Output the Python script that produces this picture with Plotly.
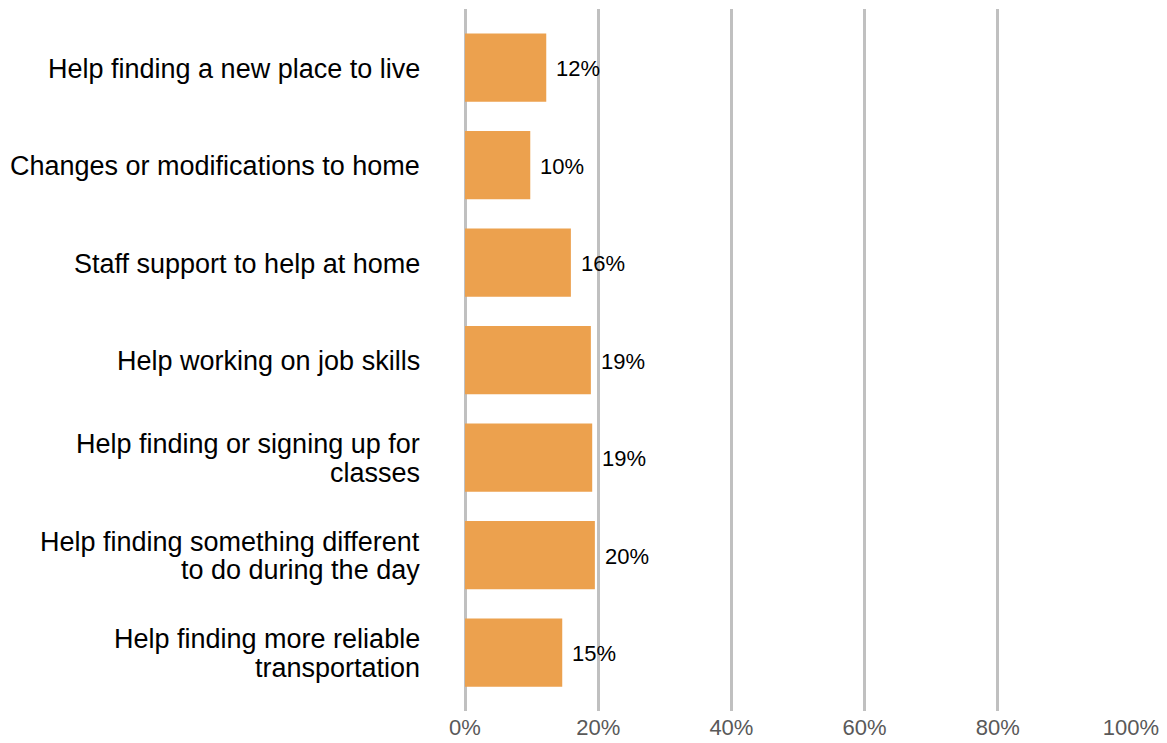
import plotly.graph_objects as go

categories = [
    "Help finding a new place to live",
    "Changes or modifications to home",
    "Staff support to help at home",
    "Help working on job skills",
    "Help finding or signing up for<br>classes",
    "Help finding something different<br>to do during the day",
    "Help finding more reliable<br>transportation",
]
values = [12.2, 9.8, 15.9, 18.9, 19.1, 19.5, 14.6]
bar_labels = ["12%", "10%", "16%", "19%", "19%", "20%", "15%"]
tick_vals = [0, 20, 40, 60, 80, 100]
tick_text = ["0%", "20%", "40%", "60%", "80%", "100%"]

FONT = "Liberation Sans, Arial, sans-serif"

fig = go.Figure(
    go.Bar(
        x=values,
        y=categories,
        orientation="h",
        marker=dict(color="#ECA14E", line=dict(width=0)),
        width=0.7,
        cliponaxis=False,
        hoverinfo="skip",
    )
)

annotations = []
# category labels, one annotation per line for tight line spacing
for cat in categories:
    lines = cat.split("<br>")
    n = len(lines)
    for i, line in enumerate(lines):
        shift = (n - 1) / 2 * 28.5 - i * 28.5
        annotations.append(
            dict(
                x=0, xref="paper", y=cat, yref="y",
                text=line, showarrow=False,
                xanchor="right", yanchor="middle",
                xshift=-43, yshift=shift - 1,
                font=dict(family=FONT, size=27, color="#000000"),
            )
        )
# value labels
for cat, v, lab in zip(categories, values, bar_labels):
    annotations.append(
        dict(
            x=v, xref="x", y=cat, yref="y",
            text=lab, showarrow=False,
            xanchor="left", yanchor="middle",
            xshift=8, yshift=-1,
            font=dict(family=FONT, size=22, color="#000000"),
        )
    )

fig.update_layout(
    width=1167,
    height=743,
    autosize=False,
    margin=dict(l=465, r=36, t=9, b=32, autoexpand=False),
    paper_bgcolor="white",
    plot_bgcolor="white",
    showlegend=False,
    font=dict(family=FONT),
    annotations=annotations,
    xaxis=dict(
        range=[0, 100],
        tickvals=tick_vals,
        ticktext=tick_text,
        showgrid=True,
        gridcolor="#C0C0C0",
        gridwidth=3,
        zeroline=True,
        zerolinecolor="#C0C0C0",
        zerolinewidth=3,
        showline=False,
        automargin=False,
        ticklabelstandoff=1,
        tickfont=dict(family=FONT, size=22, color="#595959"),
        fixedrange=True,
    ),
    yaxis=dict(
        categoryorder="array",
        categoryarray=categories,
        range=[6.6, -0.6],
        showgrid=False,
        zeroline=False,
        showline=False,
        automargin=False,
        ticks="",
        showticklabels=False,
        fixedrange=True,
    ),
)

fig.write_html(
    "out.html",
    config={"displayModeBar": False, "staticPlot": True},
    post_script="document.body.style.margin='0';document.body.style.overflow='hidden';",
)
